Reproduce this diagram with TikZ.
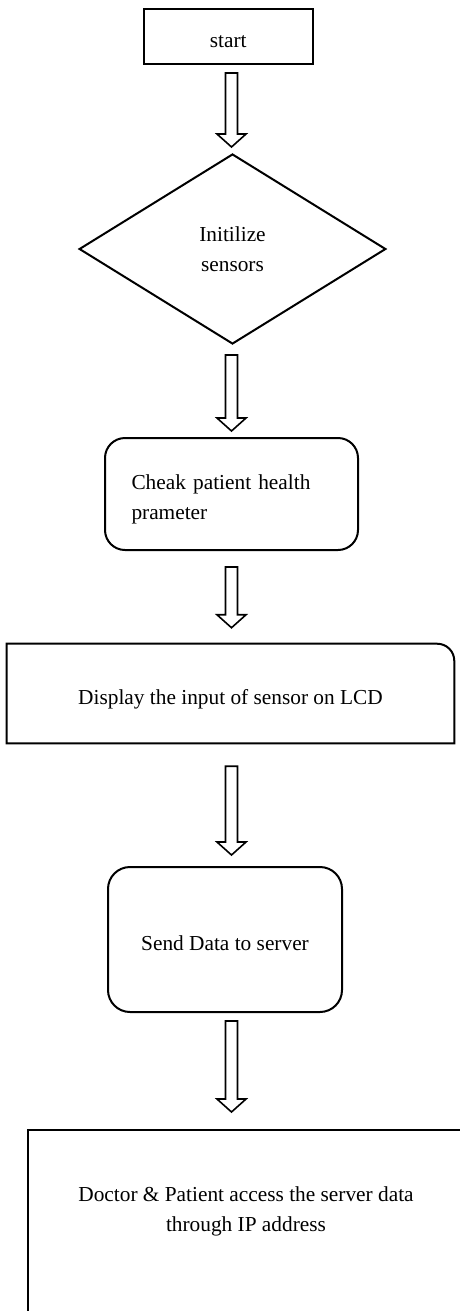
\documentclass[tikz,border=0pt]{standalone}
\usepackage{fontspec}
\setmainfont{Liberation Serif}
\usetikzlibrary{shapes.geometric,calc}

\newcommand\flowfont{\fontsize{16pt}{22.5pt}\selectfont}
% hollow block arrow on the flow axis: from node, to node, top gap, tip gap
\newcommand\flowarrow[4]{%
  \draw[arrowline] let \p1=($(axis |- #1.south)+(0,#3)$), \p2=($(axis |- #2.north)-(0,#4)$) in
    (\x1-4.5pt,\y1) -- (\x1+4.5pt,\y1) -- (\x1+4.5pt,\y2+9.75pt) -- (\x1+10.9pt,\y2+9.75pt)
    -- (\x2,\y2) -- (\x1-10.9pt,\y2+9.75pt) -- (\x1-4.5pt,\y2+9.75pt) -- cycle;}

\begin{document}
\begin{tikzpicture}[x=0.75pt,y=-0.75pt,
    box/.style={draw,line width=1.5pt,inner sep=0pt,font=\flowfont},
    lowtext/.style={text height=17pt,text depth=0pt},
    arrowline/.style={draw,fill=white,line width=1.2pt,line join=miter}]
  \clip (0,0) rectangle (460,1311);
  \coordinate (axis) at (231.5,0);

  \node[box,lowtext,minimum width=126.5pt,minimum height=41.25pt] (start) at (228.3,36.5) {start};
  \node[box,diamond,minimum width=230pt,minimum height=142.5pt,align=center] (init) at (232.5,249) {Initilize\\sensors};
  \node[box,rounded corners=15pt,minimum width=189.75pt,minimum height=84pt,text width=150pt,align=left,
    text height=18.5pt,text depth=26pt] (check) at (231.5,494) {Cheak patient health\\prameter};

  % only the top right corner is rounded here
  \node[lowtext,minimum width=335.25pt,minimum height=74.25pt,inner sep=0pt,font=\flowfont] (display) at (230.5,693.5) {Display the input of sensor on LCD};
  \draw[line width=1.5pt] (display.south west) -- (display.north west) -- ([xshift=-12.75pt]display.north east)
    arc[start angle=90,end angle=0,radius=12.75pt] -- (display.south east) -- cycle;

  \node[box,lowtext,rounded corners=16.5pt,minimum width=175.5pt,minimum height=108.75pt] (send) at (225,939.5) {Send Data to server};

  \node[box,anchor=north west,minimum width=328.5pt,minimum height=165pt] (access) at (27,1129) {};
  \node[font=\flowfont,align=center] (accesstext) at (246,1211) {Doctor \& Patient access the server data\\through IP address};

  \flowarrow{start}{init}{8}{6}
  \flowarrow{init}{check}{10}{6}
  \flowarrow{check}{display}{16}{16}
  \flowarrow{display}{send}{23}{11}
  \flowarrow{send}{access}{8}{17}
\end{tikzpicture}
\end{document}
